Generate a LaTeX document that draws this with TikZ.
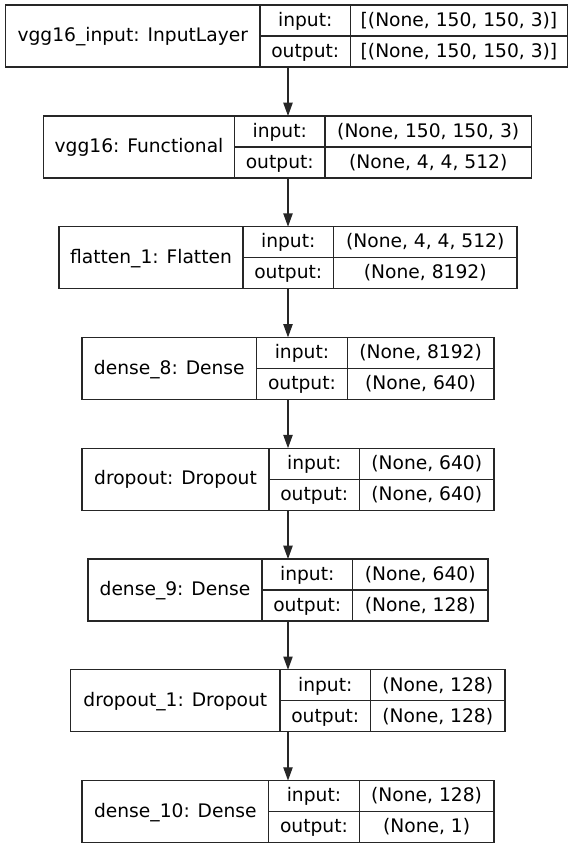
\documentclass[tikz,border=0pt]{standalone}
\usepackage{fontspec}
\setmainfont{DejaVu Sans}
\usetikzlibrary{arrows.meta,positioning}

\begin{document}
\begin{tikzpicture}[x=1pt, y=-1pt]

    % --- styles for the layer boxes ---
    \tikzset{
        % one cell of a layer table
        cell/.style={
            draw=black!85,
            line width=1.3pt,
            inner sep=0pt,
            outer sep=0pt,
            anchor=north west,
            minimum height=31pt,
            text height=14.5pt,
            text depth=3pt,
            font=\fontsize{18.67}{22}\selectfont
        },
        % left cell with the layer name
        namecell/.style={
            cell,
            minimum height=62pt
        },
        % "input:" / "output:" cells
        keycell/.style={
            cell,
            minimum width=90.5pt
        },
        % arrows between the layers
        flowarrow/.style={
            draw=black!85,
            line width=1.3pt,
            -{Triangle[length=13.3pt, width=9.3pt]}
        }
    }

    \useasboundingbox (0,0) rectangle (576,848);
    \coordinate (axis) at (288,0);

    % --- 1. layers ---

    % vgg16_input
    \node[namecell, minimum width=254.5pt] (inp) at (5.5,5) {vgg16\_input: InputLayer};
    \node[keycell] (inp-ik) at (inp.north east) {input:};
    \node[keycell] (inp-ok) at (inp-ik.south west) {output:};
    \node[cell, minimum width=217pt] (inp-iv) at (inp-ik.north east) {[(None, 150, 150, 3)]};
    \node[cell, minimum width=217pt] (inp-ov) at (inp-ok.north east) {[(None, 150, 150, 3)]};

    % vgg16
    \node[namecell, minimum width=191pt] (vgg) at (43.5,116) {vgg16: Functional};
    \node[keycell] (vgg-ik) at (vgg.north east) {input:};
    \node[keycell] (vgg-ok) at (vgg-ik.south west) {output:};
    \node[cell, minimum width=206.5pt] (vgg-iv) at (vgg-ik.north east) {(None, 150, 150, 3)};
    \node[cell, minimum width=206.5pt] (vgg-ov) at (vgg-ok.north east) {(None, 4, 4, 512)};

    % flatten_1
    \node[namecell, minimum width=184pt] (flat) at (59,226.7) {flatten\_1: Flatten};
    \node[keycell] (flat-ik) at (flat.north east) {input:};
    \node[keycell] (flat-ok) at (flat-ik.south west) {output:};
    \node[cell, minimum width=183.5pt] (flat-iv) at (flat-ik.north east) {(None, 4, 4, 512)};
    \node[cell, minimum width=183.5pt] (flat-ov) at (flat-ok.north east) {(None, 8192)};

    % dense_8
    \node[namecell, minimum width=174.7pt] (dense8) at (82,337.4) {dense\_8: Dense};
    \node[keycell] (dense8-ik) at (dense8.north east) {input:};
    \node[keycell] (dense8-ok) at (dense8-ik.south west) {output:};
    \node[cell, minimum width=146.8pt] (dense8-iv) at (dense8-ik.north east) {(None, 8192)};
    \node[cell, minimum width=146.8pt] (dense8-ov) at (dense8-ok.north east) {(None, 640)};

    % dropout
    \node[namecell, minimum width=187pt] (drop) at (82,448.2) {dropout: Dropout};
    \node[keycell] (drop-ik) at (drop.north east) {input:};
    \node[keycell] (drop-ok) at (drop-ik.south west) {output:};
    \node[cell, minimum width=134.5pt] (drop-iv) at (drop-ik.north east) {(None, 640)};
    \node[cell, minimum width=134.5pt] (drop-ov) at (drop-ok.north east) {(None, 640)};

    % dense_9
    \node[namecell, minimum width=174pt] (dense9) at (88,559) {dense\_9: Dense};
    \node[keycell] (dense9-ik) at (dense9.north east) {input:};
    \node[keycell] (dense9-ok) at (dense9-ik.south west) {output:};
    \node[cell, minimum width=135.5pt] (dense9-iv) at (dense9-ik.north east) {(None, 640)};
    \node[cell, minimum width=135.5pt] (dense9-ov) at (dense9-ok.north east) {(None, 128)};

    % dropout_1
    \node[namecell, minimum width=209.3pt] (drop1) at (70.7,669.8) {dropout\_1: Dropout};
    \node[keycell] (drop1-ik) at (drop1.north east) {input:};
    \node[keycell] (drop1-ok) at (drop1-ik.south west) {output:};
    \node[cell, minimum width=134.5pt] (drop1-iv) at (drop1-ik.north east) {(None, 128)};
    \node[cell, minimum width=134.5pt] (drop1-ov) at (drop1-ok.north east) {(None, 128)};

    % dense_10
    \node[namecell, minimum width=186.7pt] (dense10) at (82,780.6) {dense\_10: Dense};
    \node[keycell] (dense10-ik) at (dense10.north east) {input:};
    \node[keycell] (dense10-ok) at (dense10-ik.south west) {output:};
    \node[cell, minimum width=134.8pt] (dense10-iv) at (dense10-ik.north east) {(None, 128)};
    \node[cell, minimum width=134.8pt] (dense10-ov) at (dense10-ok.north east) {(None, 1)};

    % --- 2. arrows ---
    \draw[flowarrow] (inp-ok.south -| axis) -- (vgg-ik.north -| axis);
    \draw[flowarrow] (vgg-ok.south -| axis) -- (flat-ik.north -| axis);
    \draw[flowarrow] (flat-ok.south -| axis) -- (dense8-ik.north -| axis);
    \draw[flowarrow] (dense8-ok.south -| axis) -- (drop-ik.north -| axis);
    \draw[flowarrow] (drop-ok.south -| axis) -- (dense9-ik.north -| axis);
    \draw[flowarrow] (dense9-ok.south -| axis) -- (drop1-ik.north -| axis);
    \draw[flowarrow] (drop1-ok.south -| axis) -- (dense10-ik.north -| axis);

\end{tikzpicture}
\end{document}
